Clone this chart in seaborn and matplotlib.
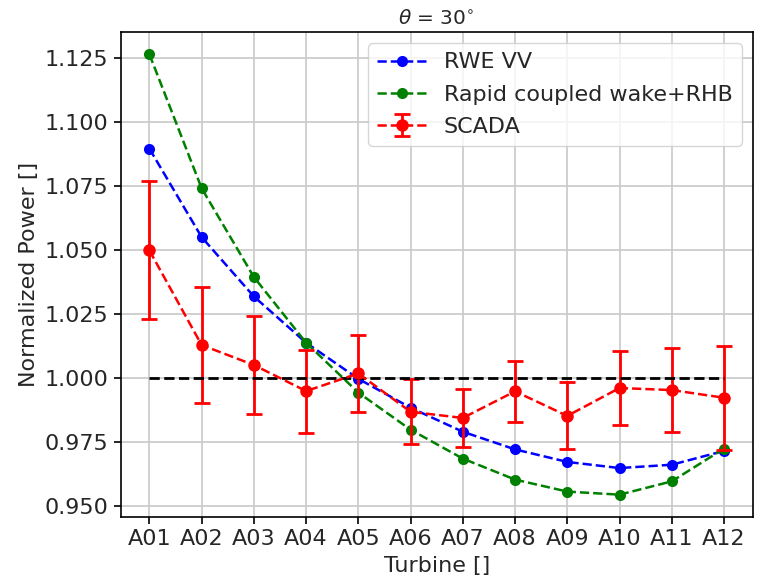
import numpy as np
import pandas as pd
import matplotlib
matplotlib.use("Agg")
import matplotlib.pyplot as plt
import seaborn as sns

# Turbine labels and normalized power values
turbines = ['A01', 'A02', 'A03', 'A04', 'A05', 'A06',
            'A07', 'A08', 'A09', 'A10', 'A11', 'A12']
rwe_vv = [1.0897, 1.0551, 1.0319, 1.0138, 0.9997, 0.9884,
          0.9790, 0.9721, 0.9672, 0.9648, 0.9661, 0.9715]
rapid_wake = [1.1266, 1.0742, 1.0395, 1.0138, 0.9943, 0.9798,
              0.9685, 0.9603, 0.9556, 0.9544, 0.9596, 0.9724]
scada = [1.0499, 1.0129, 1.0051, 0.9949, 1.0018, 0.9868,
         0.9844, 0.9948, 0.9852, 0.9961, 0.9953, 0.9923]
scada_err = [0.0270, 0.0226, 0.0190, 0.0162, 0.0152, 0.0127,
             0.0114, 0.0120, 0.0131, 0.0146, 0.0165, 0.0203]
reference = [1.0] * len(turbines)

df = pd.DataFrame({
    'turbine': turbines,
    'rwe_vv': rwe_vv,
    'rapid': rapid_wake,
    'scada': scada,
    'err': scada_err,
    'ref': reference,
})

sns.set_style("ticks")
plt.rcParams['font.family'] = ['DejaVu Sans']

fig, ax = plt.subplots(figsize=(7.59, 5.85), dpi=100)
fig.subplots_adjust(left=0.159, right=0.9917, top=0.9448, bottom=0.1168)

sns.lineplot(data=df, x='turbine', y='rwe_vv', ax=ax, color='blue', linestyle='--',
             linewidth=1.8, marker='o', markersize=8, markeredgewidth=0,
             label='RWE VV', sort=False)
sns.lineplot(data=df, x='turbine', y='rapid', ax=ax, color='green', linestyle='--',
             linewidth=1.8, marker='o', markersize=8, markeredgewidth=0,
             label='Rapid coupled wake+RHB', sort=False)
ax.errorbar(df['turbine'], df['scada'], yerr=df['err'], color='red', linestyle='--',
            linewidth=1.8, marker='o', markersize=8, capsize=5.5, elinewidth=2,
            capthick=2, label='SCADA')
sns.lineplot(data=df, x='turbine', y='ref', ax=ax, color='black', linestyle='--',
             linewidth=2, sort=False, legend=False)

ax.grid(True, color='#c8c8c8', linewidth=1.2)
ax.set_axisbelow(True)
for s in ax.spines.values():
    s.set_color('black')
    s.set_linewidth(1.2)
ax.tick_params(axis='both', labelsize=16, color='black', length=5, width=1.2,
               direction='out', pad=4)
ax.set_yticks([0.950, 0.975, 1.000, 1.025, 1.050, 1.075, 1.100, 1.125])
ax.set_yticklabels(['0.950', '0.975', '1.000', '1.025', '1.050', '1.075', '1.100', '1.125'])

ax.set_xlabel('Turbine []', fontsize=16, labelpad=5)
ax.set_ylabel('Normalized Power []', fontsize=16)
ax.set_title(r'$\theta$ = 30$^{\circ}$', fontsize=14.5)

ax.legend(loc='upper right', fontsize=16, frameon=True, framealpha=0.8,
          borderaxespad=0.5, labelspacing=0.55, handlelength=2.2)

fig.savefig('out.png', dpi=100)
